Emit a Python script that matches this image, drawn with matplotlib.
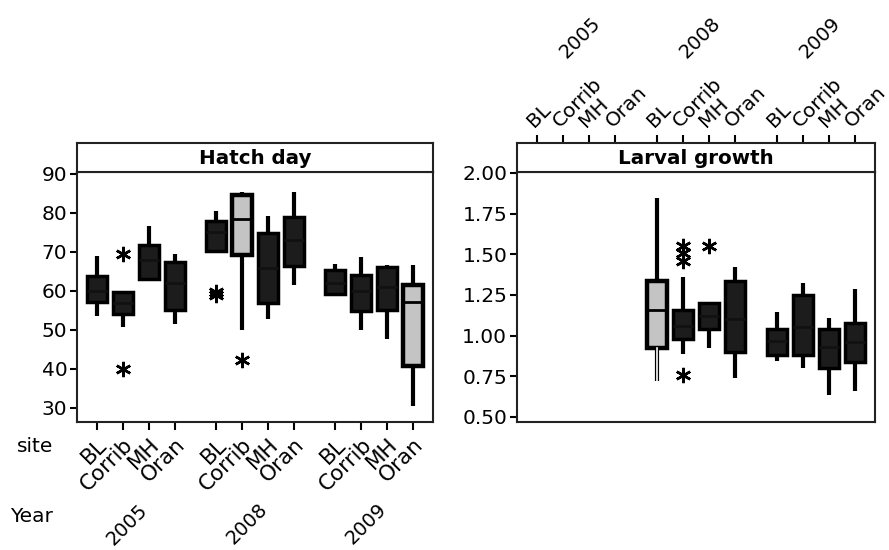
import matplotlib
matplotlib.use('Agg')
import matplotlib.pyplot as plt
import matplotlib.transforms as mtransforms

# site x year layout
sites = ['BL', 'Corrib', 'MH', 'Oran']
years = ['2005', '2008', '2009']

# Hatch day, one box per site within each year
hatch_lo  = [53.5, 50.7, 62.5, 51.5, 70.2, 49.9, 52.7, 61.5, 59.1, 49.9, 47.8, 30.4]
hatch_q1  = [57.2, 54.2, 63.1, 55.2, 70.2, 69.1, 56.8, 66.5, 59.1, 54.8, 55.2, 40.7]
hatch_med = [60.0, 57.0, 68.0, 62.0, 75.0, 78.5, 66.0, 73.0, 62.0, 60.0, 61.0, 57.2]
hatch_q3  = [63.8, 59.7, 71.9, 67.5, 77.9, 84.7, 74.9, 79.0, 65.5, 64.2, 66.2, 61.6]
hatch_hi  = [68.9, 59.7, 76.6, 69.5, 80.4, 85.5, 79.3, 85.3, 66.8, 68.7, 66.6, 66.6]
hatch_out = [[], [69.5, 40.0], [], [], [59.0, 59.8], [42.3], [], [], [], [], [], []]
hatch_gray = [5, 11]

# Larval growth, only 2008 and 2009 sampled
growth_idx = [4, 5, 6, 7, 8, 9, 10, 11]
growth_lo  = [0.722, 0.884, 0.921, 0.742, 0.843, 0.802, 0.638, 0.658]
growth_q1  = [0.921, 0.979, 1.040, 0.897, 0.880, 0.880, 0.802, 0.835]
growth_med = [1.158, 1.060, 1.120, 1.100, 0.970, 1.050, 0.930, 0.960]
growth_q3  = [1.336, 1.158, 1.199, 1.336, 1.038, 1.250, 1.040, 1.080]
growth_hi  = [1.846, 1.359, 1.199, 1.425, 1.147, 1.326, 1.110, 1.289]
growth_out = [[], [0.757, 1.46, 1.51, 1.55], [1.552], [], [], [], [], []]
growth_gray = [4]

GAP = 4.6
pos = [g * GAP + i for g in range(len(years)) for i in range(len(sites))]
labels = sites * len(years)
centers = [g * GAP + 1.5 for g in range(len(years))]
XLIM = (-0.77, pos[-1] + 0.77)

FS = 14.5     # axis numbers
FS_SITE = 15.5
FS_SITE_TOP = 14.5
FS_YEAR = 14
plt.rcParams['font.family'] = 'DejaVu Sans'

fig = plt.figure(figsize=(8.89, 5.5), dpi=100)
W, H = 889.0, 550.0

def box(px0, py0, px1, py1):
    return [px0 / W, 1 - py1 / H, (px1 - px0) / W, (py1 - py0) / H]

def draw_boxes(ax, idx, lo, q1, med, q3, hi, out, gray):
    stats = []
    for k in range(len(idx)):
        stats.append(dict(whislo=lo[k], q1=q1[k], med=med[k], q3=q3[k],
                          whishi=hi[k], fliers=out[k]))
    p = [pos[i] for i in idx]
    bp = ax.bxp(stats, positions=p, widths=0.77, patch_artist=True,
                showcaps=False,
                boxprops=dict(facecolor='#1c1c1c', edgecolor='black', linewidth=2.5),
                whiskerprops=dict(color='black', linewidth=3.0, solid_capstyle='butt'),
                medianprops=dict(color='#111111', linewidth=2),
                flierprops=dict(marker=(6, 2, 0), markersize=11,
                                markeredgecolor='black', markeredgewidth=1.8,
                                linestyle='none'),
                zorder=3)
    for k, i in enumerate(idx):
        if i in gray:
            bp['boxes'][k].set_facecolor('#c4c4c4')
            bp['boxes'][k].set_linewidth(3.2)
            bp['medians'][k].set_color('black')
    return bp

def frame(ax):
    for s in ax.spines.values():
        s.set_linewidth(1.5)
        s.set_color('#222222')

# ---- left panel: Hatch day ----
axL = fig.add_axes(box(77, 172, 433, 422))
hL = fig.add_axes(box(77, 143, 433, 172))
draw_boxes(axL, list(range(12)), hatch_lo, hatch_q1, hatch_med, hatch_q3,
           hatch_hi, hatch_out, hatch_gray)
axL.set_xlim(XLIM)
axL.set_ylim(26.4, 90.5)
axL.set_yticks([30, 40, 50, 60, 70, 80, 90])
axL.set_xticks(pos)
axL.set_xticklabels(labels, rotation=45, ha='right', va='top',
                    rotation_mode='anchor', fontsize=FS_SITE)
axL.tick_params(axis='x', length=6, width=1.5, pad=3)
axL.tick_params(axis='y', length=5, width=1.5, labelsize=FS, pad=2)
frame(axL)

hL.set_xlim(XLIM)
hL.set_xticks([])
hL.set_yticks([])
hL.text(0.5, 0.45, 'Hatch day', transform=hL.transAxes, ha='center',
        va='center', fontsize=14.3, fontweight='bold')
frame(hL)

fig.text(53 / W, 1 - 447 / H, 'site', ha='right', va='center', fontsize=FS)
fig.text(53 / W, 1 - 517 / H, 'Year', ha='right', va='center', fontsize=FS)
trL = mtransforms.blended_transform_factory(axL.transData, fig.transFigure)
for c, y in zip(centers, years):
    axL.text(c + 0.1, 1 - 500 / H, y, transform=trL, rotation=45,
             ha='right', va='top', rotation_mode='anchor', fontsize=FS_YEAR)

# ---- right panel: Larval growth ----
axR = fig.add_axes(box(517, 172, 875, 422))
hR = fig.add_axes(box(517, 143, 875, 172))
draw_boxes(axR, growth_idx, growth_lo, growth_q1, growth_med, growth_q3,
           growth_hi, growth_out, growth_gray)
# light core through the lower whisker of the gray box
for k, i in enumerate(growth_idx):
    if i in growth_gray:
        axR.plot([pos[i], pos[i]], [growth_lo[k], growth_q1[k]],
                 color='white', linewidth=1.2, zorder=4)
gticks = [0.5, 0.75, 1.0, 1.25, 1.5, 1.75, 2.0]
axR.set_xlim(XLIM)
axR.set_ylim(0.469, 2.006)
axR.set_yticks(gticks)
axR.set_yticklabels(['%.2f' % v for v in gticks])
axR.set_xticks([])
axR.tick_params(axis='y', length=5, width=1.5, labelsize=FS, pad=2)
frame(axR)

hR.set_xlim(XLIM)
hR.set_yticks([])
hR.xaxis.tick_top()
hR.set_xticks(pos)
hR.set_xticklabels(labels, rotation=45, ha='left', va='bottom',
                   rotation_mode='anchor', fontsize=FS_SITE_TOP)
for t in hR.get_xticklabels():
    t.set_x(t.get_position()[0])
hR.tick_params(axis='x', length=6, width=1.5, pad=3)
hR.text(0.5, 0.45, 'Larval growth', transform=hR.transAxes, ha='center',
        va='center', fontsize=14.3, fontweight='bold')
frame(hR)

trR = mtransforms.blended_transform_factory(axR.transData, fig.transFigure)
for c, y in zip(centers, years):
    axR.text(c - 0.25, 1 - 62 / H, y, transform=trR, rotation=45,
             ha='left', va='bottom', rotation_mode='anchor', fontsize=FS_YEAR)

fig.savefig('out.png', dpi=100)
